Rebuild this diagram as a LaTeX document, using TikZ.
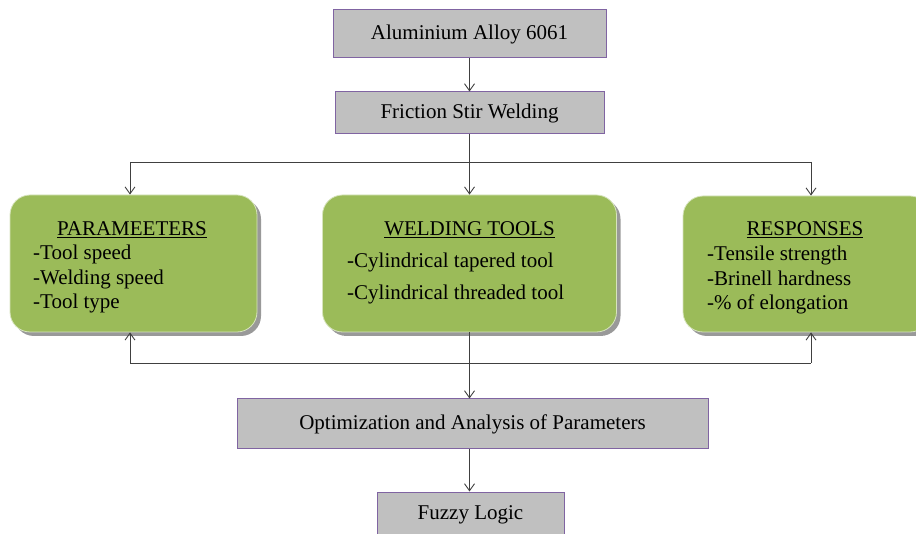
\documentclass[tikz,border=0pt]{standalone}
\usepackage{fontspec}
\setmainfont{Liberation Serif}
\usetikzlibrary{arrows.meta,shadows}
\definecolor{boxgray}{HTML}{C0C0C0}
\definecolor{boxpurple}{HTML}{8064A2}
\definecolor{olive}{HTML}{9BBB59}
\begin{document}
\begin{tikzpicture}[x=1pt,y=-1pt,
  graybox/.style={draw=boxpurple,fill=boxgray,line width=1pt,inner sep=0pt,
    font=\fontsize{21}{24}\selectfont},
  greenbox/.style={draw=olive!40!white,fill=olive,line width=0.8pt,rounded corners=20pt,inner sep=0pt,
    drop shadow={shadow xshift=4pt,shadow yshift=-4pt,fill=black!40,opacity=1}},
  ttl/.style={inner sep=0pt,font=\fontsize{21}{24}\selectfont},
  lst/.style={inner sep=0pt,align=left,anchor=west},
  conn/.style={draw=black!75,line width=0.9pt},
  arr/.style={conn,-{Straight Barb[length=7pt,width=10pt]}}]
\useasboundingbox (0,0) rectangle (916,534);
\clip (0,0) rectangle (916,534);
% gray boxes
\node[graybox,minimum width=273pt,minimum height=48pt] (al) at (469.5,34) {Aluminium Alloy 6061};
\node[graybox,minimum width=269pt,minimum height=42pt] (fsw) at (469.5,113) {Friction Stir Welding};
\node[graybox,minimum width=471pt,minimum height=50pt] (opt) at (472.5,424) {Optimization and Analysis of Parameters};
\node[graybox,minimum width=187pt,minimum height=46pt] (fz) at (470.5,515) {Fuzzy Logic};
% green boxes
\node[greenbox,minimum width=247pt,minimum height=137pt] (par) at (133.5,263.5) {};
\node[greenbox,minimum width=294pt,minimum height=137pt] (wt) at (469.5,263.5) {};
\node[greenbox,minimum width=247pt,minimum height=136pt] (res) at (806.5,264) {};
% texts in green boxes
\node[ttl] (part) at (132,230) {\underline{PARAMEETERS}};
\node[lst,font=\fontsize{21}{24.5}\selectfont] (parl) at (33,279) {-Tool speed\\-Welding speed\\-Tool type};
\node[ttl] (wtt) at (469.5,230) {\underline{WELDING TOOLS}};
\node[lst,font=\fontsize{21}{32}\selectfont] (wtl) at (347,278) {-Cylindrical tapered tool\\-Cylindrical threaded tool};
\node[ttl] (rest) at (805,230) {\underline{RESPONSES}};
\node[lst,font=\fontsize{21}{24.5}\selectfont] (resl) at (707,280) {-Tensile strength\\-Brinell hardness\\-\% of elongation};
% connector points
\coordinate (j1) at (469.5,162);
\coordinate (L1) at (130,162);
\coordinate (R1) at (811,162);
\coordinate (L2) at (130,363);
\coordinate (R2) at (811,363);
% connectors
\draw[arr] (al.south) -- (fsw.north);
\draw[conn] (fsw.south) -- (j1);
\draw[conn] (L1) -- (R1);
\draw[arr] (L1) -- (L1 |- par.north);
\draw[arr] (j1) -- (wt.north);
\draw[arr] (R1) -- (R1 |- res.north);
\draw[conn] (L2) -- (R2);
\draw[arr] (L2) -- (L2 |- par.south);
\draw[arr] (R2) -- (R2 |- res.south);
\draw[arr] (wt.south) -- (wt.south |- opt.north);
\draw[arr] (opt.south -| wt.south) -- (fz.north -| wt.south);
\end{tikzpicture}
\end{document}
